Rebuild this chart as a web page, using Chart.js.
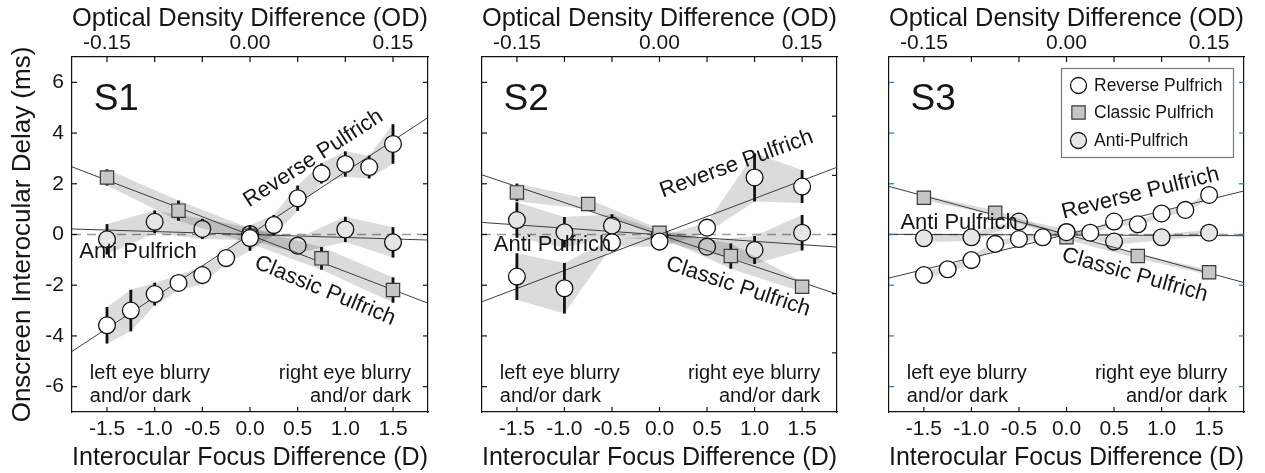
<!DOCTYPE html>
<html>
<head>
<meta charset="utf-8">
<title>Onscreen interocular delay vs. interocular focus difference</title>
<script src="https://cdn.jsdelivr.net/npm/chart.js@4.4.1/dist/chart.umd.min.js"></script>
<style>
  html, body { margin: 0; padding: 0; background: #fff; }
  #wrap { position: relative; width: 1265px; height: 473px; overflow: hidden; }
  #wrap canvas { position: absolute; top: 0; }
</style>
</head>
<body>
<div id="wrap">
  <canvas id="s1" width="440" height="473" style="left:0px;width:440px;height:473px"></canvas>
  <canvas id="s2" width="410" height="473" style="left:440px;width:410px;height:473px"></canvas>
  <canvas id="s3" width="415" height="473" style="left:850px;width:415px;height:473px"></canvas>
</div>
<script>
// ---- axes ----
const xLimits = [-1.867, 1.867];          // interocular focus difference (D)
const odLimits = [-0.1867, 0.1867];       // optical density difference (OD)
const yLimits = [-7, 7];                  // onscreen interocular delay (ms)
const focusTicks = [-1.5, -1.0, -0.5, 0, 0.5, 1.0, 1.5];
const odTicks = [-0.15, -0.10, -0.05, 0, 0.05, 0.10, 0.15];
const odLabelled = [-0.15, 0, 0.15];
const delayTicks = [-6, -4, -2, 0, 2, 4, 6];
const s2RightLimits = [-6, 6];
const s2RightTicks = [-4, -2, 0, 2, 4];

const seriesNames = ['Reverse Pulfrich', 'Classic Pulfrich', 'Anti-Pulfrich'];

// ---- conditions ----
const focusQuarter = [-1.5, -1.25, -1, -0.75, -0.5, -0.25, 0, 0.25, 0.5, 0.75, 1, 1.25, 1.5];
const focusHalf = [-1.5, -1, -0.5, 0, 0.5, 1, 1.5];
const focusClassic = [-1.5, -0.75, 0, 0.75, 1.5];

// ---- S1 ----
const s1Reverse    = [-3.58, -3.00, -2.35, -1.91, -1.60, -0.93, -0.14, 0.37, 1.43, 2.41, 2.78, 2.66, 3.57];
const s1ReverseErr = [0.72, 0.82, 0.45, 0.30, 0.36, 0.22, 0.50, 0.40, 0.50, 0.40, 0.50, 0.45, 0.78];
const s1Classic    = [2.25, 0.94, -0.05, -0.94, -2.19];
const s1ClassicErr = [0.32, 0.40, 0.30, 0.45, 0.50];
const s1Anti       = [-0.19, 0.50, 0.22, 0.02, -0.44, 0.20, -0.31];
const s1AntiErr    = [0.60, 0.45, 0.40, 0.25, 0.30, 0.50, 0.60];
const s1FitSlope   = [2.47, -1.44, -0.117];   // reverse, classic, anti
const s1FitInt     = [0.0, -0.02, 0.0];

// ---- S2 ----
const s2Reverse    = [-1.66, -2.12, -0.31, -0.28, 0.27, 2.25, 1.89];
const s2ReverseErr = [0.92, 1.00, 0.15, 0.20, 0.20, 0.95, 0.65];
const s2Classic    = [1.66, 1.20, 0.07, -0.85, -2.06];
const s2ClassicErr = [0.35, 0.20, 0.15, 0.50, 0.20];
const s2Anti       = [0.57, 0.09, 0.35, -0.05, -0.48, -0.61, 0.07];
const s2AntiErr    = [0.70, 0.60, 0.45, 0.20, 0.25, 0.55, 0.70];
const s2FitSlope   = [1.42, -1.26, -0.26];
const s2FitInt     = [0.0, 0.0, -0.01];

// ---- S3 ----
const s3Reverse    = [-1.60, -1.37, -1.01, -0.37, -0.18, -0.11, 0.09, 0.07, 0.51, 0.40, 0.83, 0.97, 1.56];
const s3ReverseErr = [0.15, 0.12, 0.15, 0.12, 0.10, 0.10, 0.10, 0.10, 0.12, 0.10, 0.12, 0.12, 0.15];
const s3Classic    = [1.45, 0.86, -0.11, -0.85, -1.49];
const s3ClassicErr = [0.10, 0.10, 0.10, 0.10, 0.10];
const s3Anti       = [-0.15, -0.11, 0.51, 0.10, -0.28, -0.11, 0.07];
const s3AntiErr    = [0.15, 0.15, 0.10, 0.10, 0.12, 0.12, 0.12];
const s3FitSlope   = [0.92, -1.015, -0.015];
const s3FitInt     = [0.0, 0.0, -0.02];

// ---- styles ----
const FONT = "'Liberation Sans', Arial, Helvetica, sans-serif";
const INK = '#161616';
const BAND = 'rgba(0,0,0,0.14)';
const MARKERS = {
  reverse: { shape: 'circle', r: 8.4, fill: '#ffffff', stroke: '#111', bw: 1.3 },
  classic: { shape: 'rect',   r: 9.4, fill: '#c6c6c6', stroke: '#3a3a3a', bw: 1.2 },
  anti:    { shape: 'circle', r: 8.4, fill: '#e6e6e6', stroke: '#111', bw: 1.3 }
};

Chart.defaults.font.family = FONT;
Chart.defaults.color = INK;

function seriesDatasets(xs, ys, errs, slope, icpt, mk, base) {
  const pts = f => xs.map((x, i) => ({ x: x, y: f(i) }));
  return [
    { data: pts(i => ys[i] + errs[i]), borderWidth: 0, pointRadius: 0, fill: false, order: base + 4 },
    { data: pts(i => ys[i] - errs[i]), borderWidth: 0, pointRadius: 0, fill: '-1', backgroundColor: BAND, order: base + 3 },
    { data: xLimits.map(x => ({ x: x, y: slope * x + icpt })), borderColor: '#2a2a2a', borderWidth: 0.9,
      pointRadius: 0, fill: false, order: base + 2, errX: xs, errY: ys, errE: errs },
    { data: pts(i => ys[i]), showLine: false, pointStyle: mk.shape, pointRadius: mk.r,
      pointBackgroundColor: mk.fill, pointBorderColor: mk.stroke, pointBorderWidth: mk.bw, order: base }
  ];
}

// vertical error bars, drawn right after each fit line so markers sit above them
const errorBars = {
  id: 'errorBars',
  afterDatasetDraw(chart, args) {
    const ds = chart.data.datasets[args.index];
    if (!ds.errX) return;
    const { ctx, scales: { x, y } } = chart;
    ctx.save();
    ctx.strokeStyle = '#111';
    ctx.lineWidth = 2.8;
    ds.errX.forEach((xv, i) => {
      const px = x.getPixelForValue(xv);
      ctx.beginPath();
      ctx.moveTo(px, y.getPixelForValue(ds.errY[i] - ds.errE[i]));
      ctx.lineTo(px, y.getPixelForValue(ds.errY[i] + ds.errE[i]));
      ctx.stroke();
    });
    ctx.restore();
  }
};

// inward-pointing tick marks on all four sides of the box
function tickMarks(yTickColor) {
  return {
    id: 'tickMarks',
    afterDraw(chart) {
      const { ctx, chartArea: a, scales } = chart;
      const L = 5;
      ctx.save();
      ctx.lineWidth = 1.2;
      ctx.strokeStyle = '#111';
      scales.x.ticks.forEach(t => {
        const p = scales.x.getPixelForValue(t.value);
        ctx.beginPath(); ctx.moveTo(p, a.bottom); ctx.lineTo(p, a.bottom - L); ctx.stroke();
      });
      scales.xTop.ticks.forEach(t => {
        const p = scales.xTop.getPixelForValue(t.value);
        ctx.beginPath(); ctx.moveTo(p, a.top); ctx.lineTo(p, a.top + L); ctx.stroke();
      });
      ctx.strokeStyle = yTickColor;
      scales.y.ticks.forEach(t => {
        const p = scales.y.getPixelForValue(t.value);
        ctx.beginPath(); ctx.moveTo(a.left, p); ctx.lineTo(a.left + L, p); ctx.stroke();
      });
      scales.yR.ticks.forEach(t => {
        const p = scales.yR.getPixelForValue(t.value);
        ctx.beginPath(); ctx.moveTo(a.right, p); ctx.lineTo(a.right - L, p); ctx.stroke();
      });
      ctx.restore();
    }
  };
}

// in-panel annotations, placed in data coordinates
function panelText(items) {
  return {
    id: 'panelText',
    afterDatasetsDraw(chart) {
      const { ctx, scales: { x, y } } = chart;
      items.forEach(t => {
        ctx.save();
        ctx.font = t.size + 'px ' + FONT;
        ctx.fillStyle = INK;
        ctx.textAlign = t.align || 'left';
        ctx.textBaseline = 'middle';
        ctx.translate(x.getPixelForValue(t.x), y.getPixelForValue(t.y));
        ctx.rotate((t.rot || 0) * Math.PI / 180);
        ctx.fillText(t.text, 0, 0);
        ctx.restore();
      });
    }
  };
}

function commonText(label, rev, cls, anti) {
  return [
    { text: label, x: -1.64, y: 5.3, size: 37 },
    { text: 'Reverse Pulfrich', x: rev[0], y: rev[1], rot: rev[2], size: 22, align: 'center' },
    { text: 'Classic Pulfrich', x: cls[0], y: cls[1], rot: cls[2], size: 22, align: 'center' },
    { text: 'Anti Pulfrich', x: anti[0], y: anti[1], size: 22 },
    { text: 'left eye blurry', x: -1.68, y: -5.5, size: 20 },
    { text: 'and/or dark', x: -1.68, y: -6.4, size: 20 },
    { text: 'right eye blurry', x: 1.69, y: -5.5, size: 20, align: 'right' },
    { text: 'and/or dark', x: 1.69, y: -6.4, size: 20, align: 'right' }
  ];
}

// legend box for the third panel
const legendBox = {
  id: 'legendBox',
  afterDraw(chart) {
    const { ctx, chartArea: a } = chart;
    const bx = a.left + 172, by = a.top + 11, bw = 172, bh = 89;
    ctx.save();
    ctx.fillStyle = '#fff';
    ctx.fillRect(bx, by, bw, bh);
    ctx.strokeStyle = '#7a7a7a';
    ctx.lineWidth = 1.2;
    ctx.strokeRect(bx + 0.5, by + 0.5, bw, bh);
    const styles = [MARKERS.reverse, MARKERS.classic, MARKERS.anti];
    const rows = [17.5, 44.5, 72.5];
    seriesNames.forEach((name, i) => {
      const mk = styles[i];
      const cx = bx + 17.5, cy = by + rows[i];
      ctx.beginPath();
      if (mk.shape === 'rect') {
        const s = mk.r * Math.SQRT1_2;
        ctx.rect(cx - s, cy - s, 2 * s, 2 * s);
      } else {
        ctx.arc(cx, cy, 8, 0, Math.PI * 2);
      }
      ctx.fillStyle = mk.fill; ctx.fill();
      ctx.strokeStyle = mk.stroke; ctx.lineWidth = mk.bw; ctx.stroke();
      ctx.fillStyle = INK;
      ctx.font = '17.5px ' + FONT;
      ctx.textAlign = 'left';
      ctx.textBaseline = 'middle';
      ctx.fillText(name, bx + 33, cy + 1);
    });
    ctx.restore();
  }
};

function makePanel(canvasId, d, box, opts) {
  const datasets = [
    { data: xLimits.map(x => ({ x: x, y: 0 })), borderColor: '#9c9c9c', borderWidth: 1.5,
      borderDash: [9, 6], pointRadius: 0, fill: false, order: 200 }
  ]
  .concat(seriesDatasets(focusHalf, d.anti, d.antiErr, d.slope[2], d.icpt[2], MARKERS.anti, 80))
  .concat(seriesDatasets(focusClassic, d.classic, d.classicErr, d.slope[1], d.icpt[1], MARKERS.classic, 60))
  .concat(seriesDatasets(d.revX, d.reverse, d.reverseErr, d.slope[0], d.icpt[0], MARKERS.reverse, 40));

  const border = { display: true, color: '#111', width: 1.2 };
  const grid = { display: false, drawTicks: false };
  const tickFont = { size: 21, lineHeight: 1.2 };
  const titleFont = { size: 26, lineHeight: 1.2 };

  const plugins = [errorBars, tickMarks(opts.yTickColor), panelText(opts.texts)];
  if (opts.legend) plugins.push(legendBox);

  return new Chart(document.getElementById(canvasId), {
    type: 'line',
    data: { datasets: datasets },
    plugins: plugins,
    options: {
      responsive: false,
      animation: false,
      events: [],
      layout: { padding: 0 },
      elements: { line: { tension: 0 } },
      plugins: { legend: { display: false }, tooltip: { enabled: false } },
      scales: {
        x: {
          type: 'linear', position: 'bottom', min: xLimits[0], max: xLimits[1],
          grid: grid, border: border,
          afterBuildTicks: s => { s.ticks = focusTicks.map(v => ({ value: v })); },
          afterFit: s => { s.height = box.bottom; },
          ticks: { autoSkip: false, maxRotation: 0, padding: 5, font: tickFont, color: INK,
                   callback: v => Number(v).toFixed(1) },
          title: { display: true, text: 'Interocular Focus Difference (D)', font: titleFont,
                   color: INK, padding: { top: 0, bottom: 0 } }
        },
        xTop: {
          type: 'linear', position: 'top', min: odLimits[0], max: odLimits[1],
          grid: grid, border: border,
          afterBuildTicks: s => { s.ticks = odTicks.map(v => ({ value: v })); },
          afterFit: s => { s.height = box.top; },
          ticks: { autoSkip: false, maxRotation: 0, padding: 1, font: tickFont, color: INK,
                   callback: v => odLabelled.some(o => Math.abs(o - v) < 1e-9) ? Number(v).toFixed(2) : '' },
          title: { display: true, text: 'Optical Density Difference (OD)', font: titleFont,
                   color: INK, padding: { top: 3, bottom: 0 } }
        },
        y: {
          type: 'linear', position: 'left', min: yLimits[0], max: yLimits[1],
          grid: grid, border: border,
          afterBuildTicks: s => { s.ticks = delayTicks.map(v => ({ value: v })); },
          afterFit: s => { s.width = box.left; },
          ticks: { display: opts.yLabels, padding: 8, font: tickFont, color: INK,
                   callback: v => String(v) },
          title: { display: opts.yLabels, text: 'Onscreen Interocular Delay (ms)', font: titleFont,
                   color: INK, padding: { top: 7, bottom: 0 } }
        },
        yR: {
          type: 'linear', position: 'right', min: opts.rightLimits[0], max: opts.rightLimits[1],
          grid: grid, border: border,
          afterBuildTicks: s => { s.ticks = opts.rightTicks.map(v => ({ value: v })); },
          afterFit: s => { s.width = box.right; },
          ticks: { display: false }
        }
      }
    }
  });
}

makePanel('s1', {
  revX: focusQuarter, reverse: s1Reverse, reverseErr: s1ReverseErr,
  classic: s1Classic, classicErr: s1ClassicErr, anti: s1Anti, antiErr: s1AntiErr,
  slope: s1FitSlope, icpt: s1FitInt
}, { left: 72, right: 12, top: 57, bottom: 61 }, {
  yLabels: true, yTickColor: '#111', rightLimits: yLimits, rightTicks: delayTicks,
  texts: commonText('S1', [0.664, 3.0, -33], [0.787, -2.22, 22.6], [-1.79, -0.68])
});

makePanel('s2', {
  revX: focusHalf, reverse: s2Reverse, reverseErr: s2ReverseErr,
  classic: s2Classic, classicErr: s2ClassicErr, anti: s2Anti, antiErr: s2AntiErr,
  slope: s2FitSlope, icpt: s2FitInt
}, { left: 42, right: 13, top: 57, bottom: 61 }, {
  yLabels: false, yTickColor: '#111', rightLimits: s2RightLimits, rightTicks: s2RightTicks,
  texts: commonText('S2', [0.81, 2.78, -20.1], [0.827, -2.06, 18.2], [-1.743, -0.41])
});

makePanel('s3', {
  revX: focusQuarter, reverse: s3Reverse, reverseErr: s3ReverseErr,
  classic: s3Classic, classicErr: s3ClassicErr, anti: s3Anti, antiErr: s3AntiErr,
  slope: s3FitSlope, icpt: s3FitInt
}, { left: 39, right: 21, top: 57, bottom: 61 }, {
  yLabels: false, yTickColor: '#1f78c1', rightLimits: yLimits, rightTicks: delayTicks, legend: true,
  texts: commonText('S3', [0.778, 1.62, -13.9], [0.719, -1.60, 15.7], [-1.747, 0.47])
});
</script>
</body>
</html>
